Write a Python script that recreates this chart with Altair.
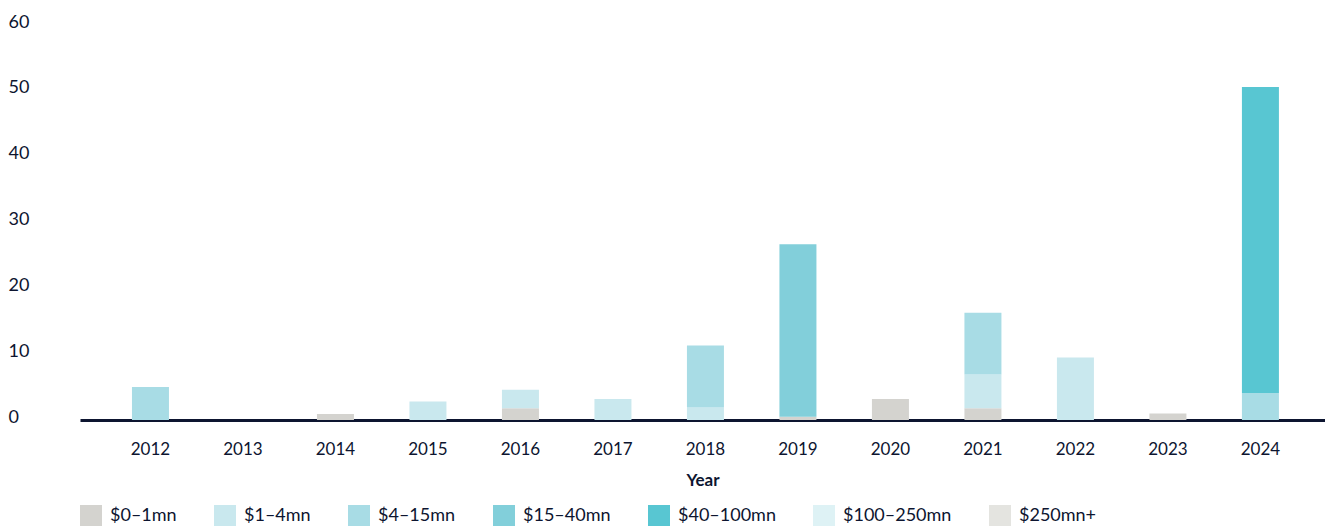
import altair as alt
import pandas as pd

# Deal size buckets, in stacking order (bottom to top)
buckets = ["$0–1mn", "$1–4mn", "$4–15mn", "$15–40mn", "$40–100mn", "$100–250mn", "$250mn+"]
bucket_colors = ["#d4d3cf", "#c9e8ee", "#a8dce5", "#82cfda", "#58c6d2", "#def2f5", "#e4e4e0"]

years = ["2012", "2013", "2014", "2015", "2016", "2017", "2018",
         "2019", "2020", "2021", "2022", "2023", "2024"]

# Values per bucket, one entry per year
v_0_1 = [0, 0, 0.9, 0, 1.8, 0, 0, 0.5, 3.2, 1.8, 0, 1.0, 0]
v_1_4 = [0, 0, 0, 2.8, 2.8, 3.2, 1.9, 0, 0, 5.1, 9.5, 0, 0]
v_4_15 = [5.0, 0, 0, 0, 0, 0, 9.4, 0, 0, 9.4, 0, 0, 4.1]
v_15_40 = [0, 0, 0, 0, 0, 0, 0, 26.2, 0, 0, 0, 0, 0]
v_40_100 = [0, 0, 0, 0, 0, 0, 0, 0, 0, 0, 0, 0, 46.5]
v_100_250 = [0] * 13
v_250_plus = [0] * 13

series = [v_0_1, v_1_4, v_4_15, v_15_40, v_40_100, v_100_250, v_250_plus]

rows = []
for b_idx, (bucket, vals) in enumerate(zip(buckets, series)):
    for year, v in zip(years, vals):
        if v > 0:
            rows.append({"Year": year, "Bucket": bucket, "Value": v, "order": b_idx})
df = pd.DataFrame(rows)

TEXT = "#0d1530"
FONT = "Lato"

bars = alt.Chart(df).mark_bar(size=37).encode(
    x=alt.X(
        "Year:N",
        sort=years,
        scale=alt.Scale(domain=years, paddingInner=0.6, paddingOuter=0.53, align=0.53),
        axis=alt.Axis(
            title="Year",
            labelAngle=0,
            labelFontSize=17,
            labelColor=TEXT,
            labelFont=FONT,
            labelPadding=21,
            ticks=False,
            domainColor=TEXT,
            domainWidth=3,
            titleFont=FONT,
            titleFontSize=17,
            titleFontWeight="bold",
            titleColor=TEXT,
            titlePadding=15,
        ),
    ),
    y=alt.Y(
        "sum(Value):Q",
        stack="zero",
        scale=alt.Scale(domain=[0, 60], nice=False),
        axis=alt.Axis(
            title=None,
            values=[0, 10, 20, 30, 40, 50, 60],
            grid=False,
            domain=False,
            ticks=False,
            labelAlign="left",
            labelPadding=72,
            labelOffset=-3,
            labelFontSize=18,
            labelFont=FONT,
            labelColor=TEXT,
        ),
    ),
    color=alt.Color(
        "Bucket:N",
        scale=alt.Scale(domain=buckets, range=bucket_colors),
        legend=alt.Legend(
            title=None,
            orient="none",
            legendX=0,
            legendY=480,
            direction="horizontal",
            columns=7,
            columnPadding=37,
            symbolType="square",
            symbolSize=484,
            symbolStrokeWidth=0,
            symbolOpacity=1,
            labelOffset=8,
            labelFontSize=18,
            labelFont=FONT,
            labelColor=TEXT,
            padding=0,
        ),
    ),
    order=alt.Order("order:Q", sort="ascending"),
)

chart = bars.properties(
    width=1245,
    height=395,
    background="white",
    autosize=alt.AutoSizeParams(type="none"),
    padding={"left": 80, "top": 25, "right": 0, "bottom": 106},
).configure_view(stroke=None)

chart.save("out.html", embed_options={"renderer": "svg", "actions": False})
